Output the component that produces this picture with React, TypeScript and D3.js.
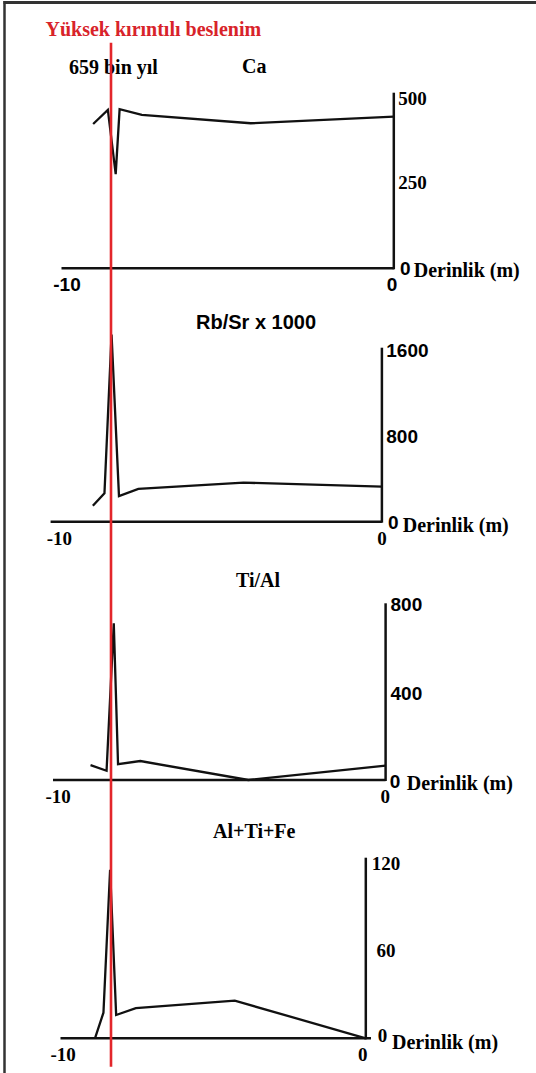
import React from "react";
import * as d3 from "d3";

// depth (m) and values, one pair of arrays per panel
const depthCa = [-9.2, -8.75, -8.51, -8.39, -7.71, -4.38, 0];
const ca = [411, 451, 268, 453, 437, 413, 432];

const depthRbSr = [-8.96, -8.6, -8.38, -8.15, -7.55, -4.29, 0];
const rbSr = [147, 261, 1720, 236, 301, 359, 322];

const depthTiAl = [-9.01, -8.52, -8.3, -8.17, -7.49, -4.19, 0];
const tiAl = [67, 42, 709, 72, 86, 0, 65];

const depthAlTiFe = [-8.95, -8.67, -8.45, -8.25, -7.6, -4.33, 0];
const alTiFe = [0, 17, 112, 15.5, 20, 25, 0];

const yTicksCa = [0, 250, 500];
const yTicksRbSr = [0, 800, 1600];
const yTicksTiAl = [0, 400, 800];
const yTicksAlTiFe = [0, 60, 120];
const xTicks = [-10, 0];

const mainTitle = "Yüksek kırıntılı beslenim";
const ageLabel = "659 bin yıl";
const depthLabel = "Derinlik (m)";

const SERIF = "'Liberation Serif', 'Times New Roman', serif";
const SANS = "'Liberation Sans', Arial, sans-serif";

const panels = [
  {
    title: "Ca", titleX: 242, titleY: 73, titleFont: SERIF,
    depth: depthCa, values: ca, ticks: yTicksCa,
    x0: 67, x1: 393.8, axisStart: 61.5, axisEnd: 393.8, yTop: 92.7, yBase: 268.3,
    tickFont: SERIF, tickX: 398.3, tickAnchor: "start", topDy: 5.5,
    zeroFont: SANS, zeroX: 400, zeroDy: 0, derinX: 413.7, derinDy: 2, xTickFont: SANS, xZeroX: 392,
  },
  {
    title: "Rb/Sr x 1000", titleX: 196, titleY: 329.3, titleFont: SANS,
    depth: depthRbSr, values: rbSr, ticks: yTicksRbSr,
    x0: 59.3, x1: 381.9, axisStart: 50.6, axisEnd: 381.9, yTop: 347.7, yBase: 521.7,
    tickFont: SANS, tickX: 386.3, tickAnchor: "start", topDy: 2.3,
    zeroFont: SANS, zeroX: 388, zeroDy: 1, derinX: 402.7, derinDy: 3, xTickFont: SERIF, xZeroX: 382,
  },
  {
    title: "Ti/Al", titleX: 236, titleY: 586.7, titleFont: SERIF,
    depth: depthTiAl, values: tiAl, ticks: yTicksTiAl,
    x0: 58.1, x1: 385.6, axisStart: 53, axisEnd: 385.6, yTop: 603.3, yBase: 780,
    tickFont: SANS, tickX: 390.5, tickAnchor: "start", topDy: 1,
    zeroFont: SANS, zeroX: 389.7, zeroDy: 1, derinX: 406.8, derinDy: 3, xTickFont: SERIF, xZeroX: 385.3,
  },
  {
    title: "Al+Ti+Fe", titleX: 213, titleY: 838.3, titleFont: SERIF,
    depth: depthAlTiFe, values: alTiFe, ticks: yTicksAlTiFe,
    x0: 63.2, x1: 365.8, axisStart: 60.5, axisEnd: 371, yTop: 857.7, yBase: 1038.3,
    tickFont: SERIF, tickX: 386, tickAnchor: "middle", topDy: 5.5,
    zeroFont: SERIF, zeroX: 377.8, zeroDy: -3, derinX: 392, derinDy: 3.4, xTickFont: SERIF, xZeroX: 362.8,
  },
];

function Panel({ p }) {
  const x = d3.scaleLinear().domain([-10, 0]).range([p.x0, p.x1]);
  const yMax = d3.max(p.ticks);
  const y = d3.scaleLinear().domain([0, yMax]).range([p.yBase, p.yTop]);
  const pts = p.depth.map((d, i) => [d, p.values[i]]);
  const line = d3.line().x(d => x(d[0])).y(d => y(d[1]));

  return (
    <g>
      <text x={p.titleX} y={p.titleY} fontFamily={p.titleFont} fontWeight="bold" fontSize={20}>
        {p.title}
      </text>
      {/* axes */}
      <line x1={p.axisStart} x2={p.axisEnd} y1={y(0)} y2={y(0)} stroke="#111" strokeWidth={2.5} />
      <line x1={x(0)} x2={x(0)} y1={y(0) + 1} y2={y(yMax)} stroke="#111" strokeWidth={2.5} />
      {p.ticks.filter(t => t !== 0).map(t => (
        <text key={t} x={p.tickX} y={y(t) + (t === yMax ? p.topDy : 2)} dy="0.35em" textAnchor={p.tickAnchor}
          fontFamily={p.tickFont} fontWeight="bold" fontSize={19}>
          {t}
        </text>
      ))}
      <text x={p.zeroX} y={y(0) + p.zeroDy} dy="0.35em" fontFamily={p.zeroFont} fontWeight="bold" fontSize={19}>0</text>
      <text x={p.derinX} y={y(0) + p.derinDy} dy="0.35em" fontFamily={SERIF} fontWeight="bold" fontSize={20}>
        {depthLabel}
      </text>
      {xTicks.map(t => (
        <text key={t} x={t === 0 ? p.xZeroX : x(t)} y={y(0) + 23} textAnchor="middle"
          fontFamily={p.xTickFont} fontWeight="bold" fontSize={19}>
          {t}
        </text>
      ))}
      <path d={line(pts)} fill="none" stroke="#111" strokeWidth={2.3} strokeLinejoin="miter" />
    </g>
  );
}

export default function App() {
  return (
    <svg width={536} height={1073} style={{ position: "absolute", left: 0, top: 0, background: "#fff" }}>
      <rect width={536} height={1073} fill="#fff" />
      {/* frame */}
      <line x1={3.5} x2={536} y1={2.5} y2={2.5} stroke="#333" strokeWidth={3} />
      <line x1={4.5} x2={4.5} y1={1} y2={1073} stroke="#333" strokeWidth={2.5} />

      <text x={45.5} y={36} fill="#d8232a" fontFamily={SERIF} fontWeight="bold" fontSize={20}>
        {mainTitle}
      </text>
      <text x={69} y={74} fontFamily={SERIF} fontWeight="bold" fontSize={20}>{ageLabel}</text>

      {panels.map((p, i) => <Panel key={i} p={p} />)}

      {/* marker line */}
      <line x1={111} x2={111} y1={42.7} y2={1066.7} stroke="#e3262b" strokeWidth={2.6} />
    </svg>
  );
}
